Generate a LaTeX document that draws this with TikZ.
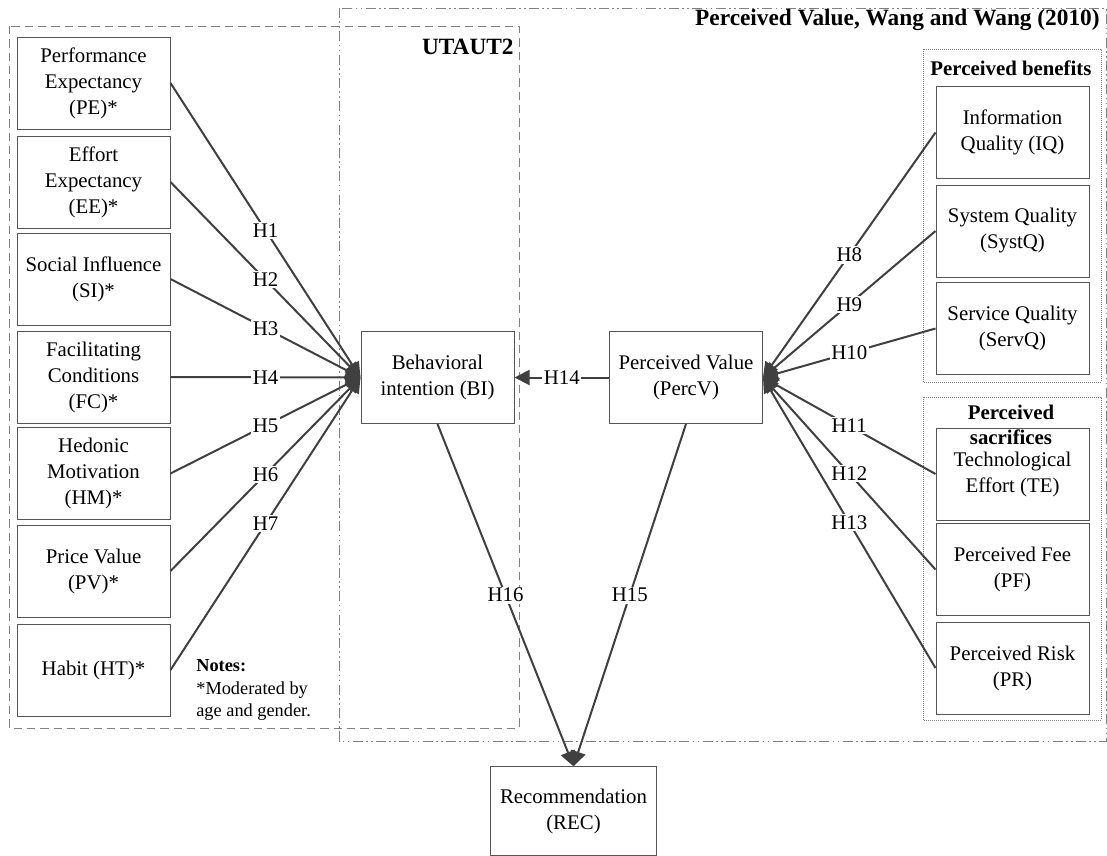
\documentclass[tikz,border=0pt]{standalone}
\usepackage{fontspec}
\setmainfont{Liberation Serif}
\usetikzlibrary{arrows.meta}
\definecolor{linegray}{HTML}{404040}
\definecolor{boxgray}{HTML}{555555}
\definecolor{framegray}{HTML}{808080}

\begin{document}
\begin{tikzpicture}[x=0.6pt, y=-0.6pt, font=\fontsize{12.5}{15.6}\selectfont,
  box/.style={draw=boxgray, line width=0.6pt, minimum width=91.8pt, minimum height=55.2pt, align=center, inner sep=1pt},
  arr/.style={-{Triangle[length=9pt,width=9pt]}, draw=linegray, line width=1.2pt},
  hyp/.style={fill=white, inner sep=1pt},
  title/.style={font=\fontsize{14}{16}\selectfont\bfseries, inner sep=0pt},
  group/.style={font=\fontsize{12.5}{15}\selectfont\bfseries, align=center, inner sep=0pt}]
\useasboundingbox (0,0) rectangle (1107,856);

% frames
\draw[framegray, line width=0.6pt, dash pattern=on 5pt off 3pt] (9,26) rectangle (519,728);
\draw[framegray, line width=0.6pt, dash pattern=on 6pt off 2pt on 1pt off 2pt on 1pt off 2pt] (339,8) rectangle (1106,741);
\draw[framegray, line width=0.4pt, dash pattern=on 0.6pt off 0.6pt] (923,49) rectangle (1101,382);
\draw[framegray, line width=0.4pt, dash pattern=on 0.6pt off 0.6pt] (923,397) rectangle (1101,720);
\node[title, anchor=east] (tutaut) at (514,47) {UTAUT2};
\node[title, anchor=east] (tpv) at (1100,20) {Perceived Value, Wang and Wang (2010)};
\node[group] (tben) at (1011,68) {Perceived benefits};

% UTAUT2 constructs
\node[box] (pe) at (93.5,83) {Performance\\Expectancy\\(PE)*};
\node[box] (ee) at (93.5,182) {Effort\\Expectancy\\(EE)*};
\node[box] (si) at (93.5,279) {Social Influence\\(SI)*};
\node[box] (fc) at (93.5,377) {Facilitating\\Conditions\\(FC)*};
\node[box] (hm) at (93.5,473.5) {Hedonic\\Motivation\\(HM)*};
\node[box] (pv) at (93.5,571) {Price Value\\(PV)*};
\node[box] (ht) at (93.5,670) {Habit (HT)*};
\node[anchor=west, align=left, font=\fontsize{11}{13.5}\selectfont, inner sep=0pt] (notes) at (196,690) {\textbf{Notes:}\\*Moderated by\\age and gender.};

\node[box] (bi) at (437.5,377.5) {Behavioral\\intention (BI)};
\node[box] (percv) at (686,377.5) {Perceived Value\\(PercV)};
\node[box, minimum width=100pt, minimum height=53pt] (rec) at (573.5,811) {Recommendation\\(REC)};

% Wang and Wang constructs
\node[box] (iq) at (1012.5,132.5) {Information\\Quality (IQ)};
\node[box] (systq) at (1012.5,231) {System Quality\\(SystQ)};
\node[box] (servq) at (1012.5,328.5) {Service Quality\\(ServQ)};
\node[box] (te) at (1012.5,474) {Technological\\Effort (TE)};
\node[box] (pf) at (1012.5,569.5) {Perceived Fee\\(PF)};
\node[box] (pr) at (1012.5,668) {Perceived Risk\\(PR)};
\node[group] (tsac) at (1011,425) {Perceived\\sacrifices};

% hypotheses
\path (pe.east) edge[arr] node[hyp]{H1} (bi.west)
      (ee.east) edge[arr] node[hyp]{H2} (bi.west)
      (si.east) edge[arr] node[hyp]{H3} (bi.west)
      (fc.east) edge[arr] node[hyp]{H4} (bi.west)
      (hm.east) edge[arr] node[hyp]{H5} (bi.west)
      (pv.east) edge[arr] node[hyp]{H6} (bi.west)
      (ht.east) edge[arr] node[hyp]{H7} (bi.west);
\path (iq.west) edge[arr] node[hyp]{H8} (percv.east)
      (systq.west) edge[arr] node[hyp]{H9} (percv.east)
      (servq.west) edge[arr] node[hyp]{H10} (percv.east)
      (te.west) edge[arr] node[hyp]{H11} (percv.east)
      (pf.west) edge[arr] node[hyp]{H12} (percv.east)
      (pr.west) edge[arr] node[hyp]{H13} (percv.east);
\path (percv.west) edge[arr] node[hyp]{H14} (bi.east);
\path (percv.south) edge[arr] node[hyp]{H15} (rec.north);
\path (bi.south) edge[arr] node[hyp]{H16} (rec.north);
\end{tikzpicture}
\end{document}
